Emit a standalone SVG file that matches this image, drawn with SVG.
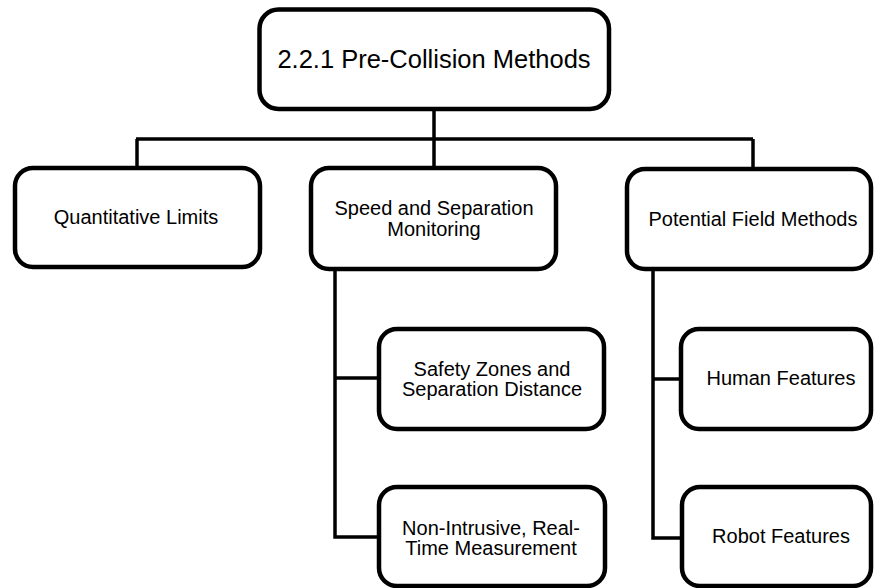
<svg xmlns="http://www.w3.org/2000/svg" width="874" height="588" viewBox="0 0 874 588">
  <style>
    .box { fill: #ffffff; stroke: #000000; stroke-width: 4.5; }
    .wire { fill: none; stroke: #000000; stroke-width: 3.5; stroke-linejoin: miter; stroke-linecap: butt; }
    text { font-family: "Liberation Sans", Arial, Helvetica, sans-serif; fill: #000000; text-anchor: middle; }
    .title { font-size: 25.5px; }
    .label { font-size: 20px; }
  </style>
  <rect width="874" height="588" fill="#ffffff"/>

  <!-- connectors -->
  <g id="connectors">
    <path class="wire" d="M434 109 V139"/>
    <path class="wire" d="M136 139 H753"/>
    <path class="wire" d="M137 139 V168"/>
    <path class="wire" d="M434 139 V168"/>
    <path class="wire" d="M753 139 V169"/>
    <path class="wire" d="M335 269 V537 H379"/>
    <path class="wire" d="M335 378 H379"/>
    <path class="wire" d="M653 269 V538 H682"/>
    <path class="wire" d="M653 379 H681"/>
  </g>

  <!-- root -->
  <g id="pre-collision">
    <rect class="box" x="259.5" y="9.5" width="349.5" height="99.5" rx="19"/>
    <text class="title" x="434" y="68">2.2.1 Pre-Collision Methods</text>
  </g>

  <!-- second level -->
  <g id="quantitative-limits">
    <rect class="box" x="15" y="168" width="245" height="99" rx="18"/>
    <text class="label" x="136" y="224">Quantitative Limits</text>
  </g>
  <g id="speed-separation">
    <rect class="box" x="311" y="168" width="245" height="101" rx="18"/>
    <text class="label" x="434" y="215">Speed and Separation</text>
    <text class="label" x="434" y="236">Monitoring</text>
  </g>
  <g id="potential-field">
    <rect class="box" x="627" y="169" width="244" height="100" rx="18"/>
    <text class="label" x="753" y="226">Potential Field Methods</text>
  </g>

  <!-- third level, speed and separation -->
  <g id="safety-zones">
    <rect class="box" x="379" y="329" width="225" height="100" rx="18"/>
    <text class="label" x="492" y="376">Safety Zones and</text>
    <text class="label" x="492" y="396">Separation Distance</text>
  </g>
  <g id="non-intrusive">
    <rect class="box" x="379" y="487" width="226" height="99" rx="18"/>
    <text class="label" x="491" y="535">Non-Intrusive, Real-</text>
    <text class="label" x="491" y="555">Time Measurement</text>
  </g>

  <!-- third level, potential field -->
  <g id="human-features">
    <rect class="box" x="681" y="329" width="190" height="100" rx="18"/>
    <text class="label" x="781" y="385">Human Features</text>
  </g>
  <g id="robot-features">
    <rect class="box" x="682" y="487" width="189" height="99" rx="18"/>
    <text class="label" x="781" y="543">Robot Features</text>
  </g>
</svg>
